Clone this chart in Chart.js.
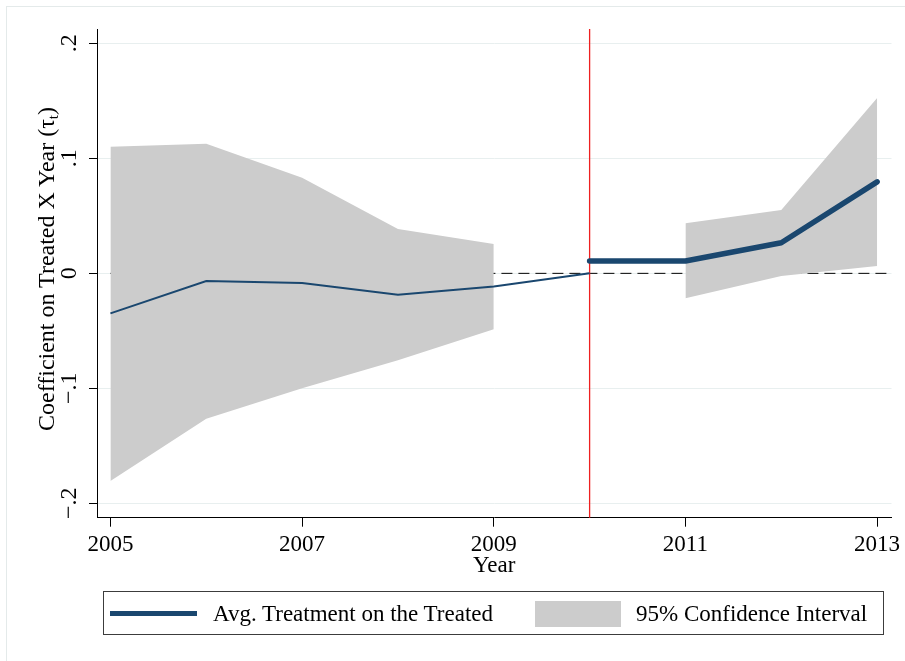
<!DOCTYPE html>
<html>
<head>
<meta charset="utf-8">
<script src="https://cdn.jsdelivr.net/npm/chart.js@4/dist/chart.umd.min.js"></script>
<style>
  html, body { margin: 0; padding: 0; background: #fff; }
  #wrap { position: relative; width: 905px; height: 661px; overflow: hidden; background: #fff; }
  #frame { position: absolute; left: 6px; top: 6px; width: 910px; height: 670px; border: 1px solid #e4eaea; box-sizing: border-box; }
  canvas { position: absolute; left: 0; top: 0; }
  #ytitle { position: absolute; left: 46px; top: 269px; transform: translate(-50%, -50%) rotate(-90deg);
            white-space: nowrap; font-family: "Liberation Serif", "Times New Roman", serif; font-size: 24px; color: #000; line-height: 1; }
  #ytitle sub { font-size: 15px; vertical-align: -4px; line-height: 0; }
  #legend { position: absolute; left: 103px; top: 591px; width: 781px; height: 44px; border: 1px solid #3c3c3c; box-sizing: border-box;
            font-family: "Liberation Serif", "Times New Roman", serif; font-size: 23px; color: #000; }
  #legend .swl { position: absolute; left: 6px; top: 19px; width: 87px; height: 5px; }
  #legend .swb { position: absolute; left: 431px; top: 9px; width: 86px; height: 26px; }
  #legend .t { position: absolute; top: 9px; line-height: 26px; white-space: nowrap; }
</style>
</head>
<body>
<div id="wrap">
  <div id="frame"></div>
  <canvas id="c" width="905" height="661"></canvas>
  <div id="ytitle"></div>
  <div id="legend"></div>
</div>
<script>
// ---- data ----
const years      = [2005, 2006, 2007, 2008, 2009, 2010, 2011, 2012, 2013];
const preYears   = [2005, 2006, 2007, 2008, 2009, 2010];
const coefPre    = [-0.0348, -0.0067, -0.0084, -0.0186, -0.0115, 0.0];
const postYears  = [2010, 2011, 2012, 2013];
const coefPost   = [0.0107, 0.0107, 0.0266, 0.0796];
const ciPreYears = [2005, 2006, 2007, 2008, 2009];
const ciPreUpper = [0.1100, 0.1127, 0.0832, 0.0385, 0.0255];
const ciPreLower = [-0.1806, -0.1264, -0.1000, -0.0755, -0.0486];
const ciPostYears = [2011, 2012, 2013];
const ciPostUpper = [0.0435, 0.0551, 0.1524];
const ciPostLower = [-0.0217, -0.0023, 0.0063];
const treatYear  = 2010;
const zeroLine   = 0;
const xTickValues = [2005, 2007, 2009, 2011, 2013];
const yTickValues = [-0.2, -0.1, 0, 0.1, 0.2];
const yTickLabels = ['\u2212.2', '\u2212.1', '0', '.1', '.2'];
const xTitle = 'Year';
const yTitleMain = 'Coefficient on Treated X Year (\u03C4';
const yTitleSub = 't';
const legendLabels = ['Avg. Treatment on the Treated', '95% Confidence Interval'];

// ---- styles ----
const navy = '#1a476f';
const ciGray = '#cccccc';
const fontFam = '"Liberation Serif", "Times New Roman", serif';

const pts = (xs, ys) => xs.map((x, i) => ({ x: x, y: ys[i] }));

document.getElementById('ytitle').innerHTML = yTitleMain + '<sub>' + yTitleSub + '</sub>)';
document.getElementById('legend').innerHTML =
  '<div class="swl" style="background:' + navy + '"></div>' +
  '<div class="t" style="left:109px">' + legendLabels[0] + '</div>' +
  '<div class="swb" style="background:' + ciGray + '"></div>' +
  '<div class="t" style="left:532px">' + legendLabels[1] + '</div>';

const refLines = {
  id: 'refLines',
  beforeDatasetsDraw(chart) {
    const { ctx, chartArea: a, scales: { x, y } } = chart;
    ctx.save();
    const yz = y.getPixelForValue(zeroLine);
    ctx.strokeStyle = '#000';
    ctx.lineWidth = 1;
    ctx.setLineDash([11, 6]);
    ctx.beginPath();
    ctx.moveTo(x.getPixelForValue(years[0]), yz);
    ctx.lineTo(a.right, yz);
    ctx.stroke();
    ctx.setLineDash([]);
    ctx.strokeStyle = '#ee2020';
    ctx.lineWidth = 1.3;
    const xt = x.getPixelForValue(treatYear);
    ctx.beginPath();
    ctx.moveTo(xt, a.top);
    ctx.lineTo(xt, a.bottom);
    ctx.stroke();
    ctx.restore();
  }
};

new Chart(document.getElementById('c'), {
  type: 'line',
  data: {
    datasets: [
      { data: pts(postYears, coefPost), borderColor: navy, borderWidth: 5.5, pointRadius: 0, fill: false, tension: 0, borderCapStyle: 'round', borderJoinStyle: 'round' },
      { data: pts(preYears, coefPre), borderColor: navy, borderWidth: 2, pointRadius: 0, fill: false, tension: 0 },
      { data: pts(ciPostYears, ciPostUpper), borderWidth: 0, borderColor: 'rgba(0,0,0,0)', backgroundColor: ciGray, pointRadius: 0, fill: '+1', tension: 0 },
      { data: pts(ciPostYears, ciPostLower), borderWidth: 0, borderColor: 'rgba(0,0,0,0)', pointRadius: 0, fill: false, tension: 0 },
      { data: pts(ciPreYears, ciPreUpper), borderWidth: 0, borderColor: 'rgba(0,0,0,0)', backgroundColor: ciGray, pointRadius: 0, fill: '+1', tension: 0 },
      { data: pts(ciPreYears, ciPreLower), borderWidth: 0, borderColor: 'rgba(0,0,0,0)', pointRadius: 0, fill: false, tension: 0 }
    ]
  },
  options: {
    responsive: false,
    animation: false,
    devicePixelRatio: 1,
    layout: { padding: { left: 0, top: 29, right: 13.5, bottom: 81.3 } },
    plugins: { legend: { display: false }, tooltip: { enabled: false }, filler: { propagate: false } },
    scales: {
      x: {
        type: 'linear',
        min: 2004.86,
        max: 2013.15,
        afterBuildTicks: s => { s.ticks = xTickValues.map(v => ({ value: v })); },
        afterFit: s => { s.height = 62; },
        ticks: { autoSkip: false, maxRotation: 0, minRotation: 0, padding: 4, color: '#000',
                 font: { family: fontFam, size: 23 }, callback: v => String(v) },
        grid: { drawOnChartArea: false, drawTicks: true, tickLength: 9, color: '#000', tickColor: '#000' },
        border: { display: true, color: '#000', width: 1 },
        title: { display: true, text: xTitle, color: '#000', font: { family: fontFam, size: 23 }, padding: { top: 0, bottom: 0 } }
      },
      y: {
        type: 'linear',
        min: -0.2125,
        max: 0.2125,
        afterBuildTicks: s => { s.ticks = yTickValues.map(v => ({ value: v })); },
        afterFit: s => { s.width = 97; },
        ticks: { autoSkip: false, minRotation: 90, maxRotation: 90, crossAlign: 'center', padding: 4, color: '#000',
                 font: { family: fontFam, size: 24 },
                 callback: v => { const i = yTickValues.findIndex(t => Math.abs(t - v) < 1e-9); return i >= 0 ? yTickLabels[i] : ''; } },
        grid: { color: '#e8efef', tickColor: '#000', tickLength: 8, lineWidth: 1 },
        border: { display: true, color: '#000', width: 1 }
      }
    }
  },
  plugins: [refLines]
});
</script>
</body>
</html>
